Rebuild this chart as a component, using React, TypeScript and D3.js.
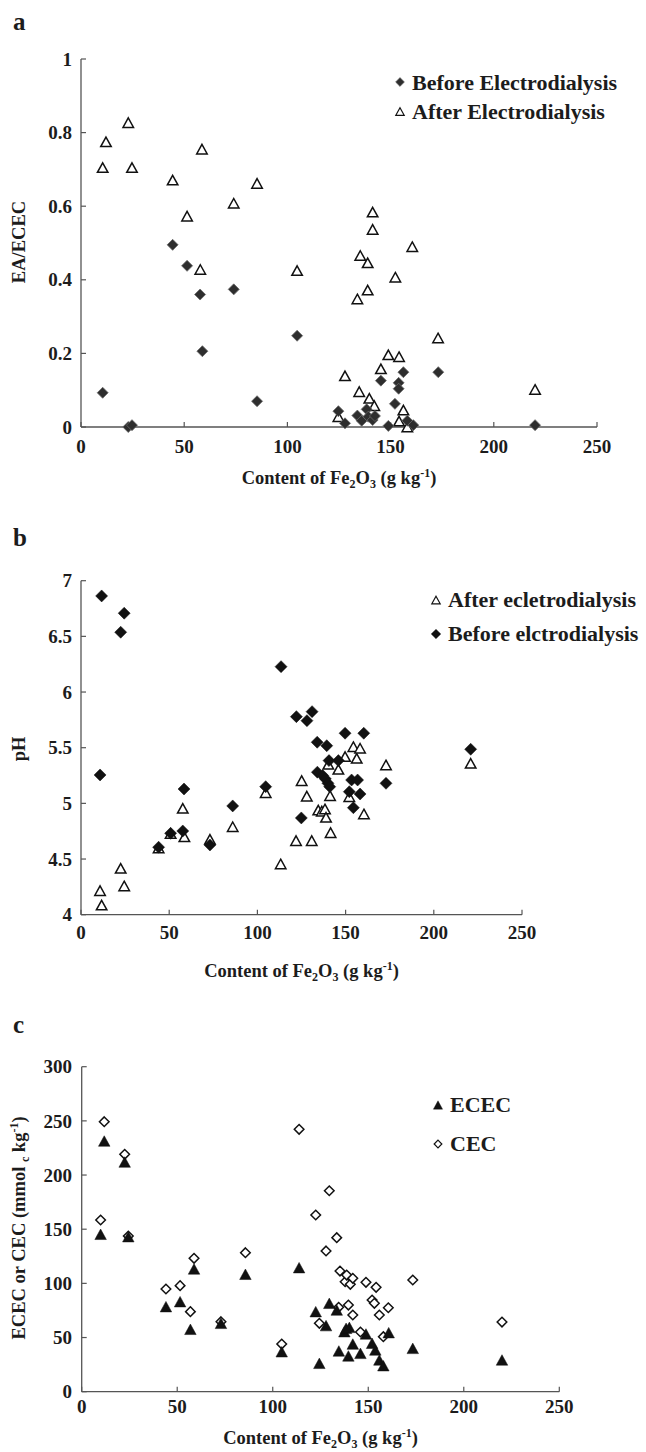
import * as React from "react";
import * as d3 from "d3";

const eaBefore: [number, number][] = [
  [10.5, 0.093], [22.9, 0.0], [24.7, 0.005], [44.4, 0.495], [51.4, 0.438], [57.7, 0.36], [58.8, 0.206],
  [74.0, 0.374], [85.3, 0.07], [104.7, 0.248], [124.7, 0.043], [127.9, 0.01], [133.9, 0.031], [136, 0.017],
  [138.4, 0.048], [139.2, 0.028], [141.3, 0.019], [142.4, 0.03], [145.3, 0.126], [148.9, 0.003], [152.1, 0.063],
  [153.9, 0.12], [153.9, 0.104], [156.2, 0.149], [158.1, 0.017], [161, 0.005], [173.1, 0.149], [220, 0.005],
];
const eaAfter: [number, number][] = [
  [10.5, 0.705], [12.1, 0.775], [22.9, 0.827], [24.7, 0.705], [44.4, 0.671], [51.4, 0.573], [57.8, 0.428],
  [58.6, 0.755], [74.0, 0.608], [85.3, 0.662], [104.7, 0.425], [124.7, 0.028], [127.9, 0.139], [133.9, 0.348],
  [134.8, 0.096], [135.3, 0.466], [138.9, 0.446], [138.9, 0.372], [139.7, 0.078], [141.3, 0.584], [141.3, 0.537],
  [142.1, 0.058], [145.3, 0.158], [148.9, 0.196], [152.3, 0.407], [154.1, 0.191], [154.1, 0.016], [156.2, 0.046],
  [158.1, 0.0], [160.5, 0.49], [173.0, 0.242], [220, 0.102],
];

const phBefore: [number, number][] = [
  [10.8, 5.255], [11.7, 6.863], [22.5, 6.537], [24.5, 6.708], [44.0, 4.606], [50.8, 4.731], [57.7, 4.752],
  [58.4, 5.129], [73.1, 4.626], [86.0, 4.977], [104.7, 5.15], [113.4, 6.228], [122.1, 5.779], [124.9, 4.869],
  [128.1, 5.743], [131, 5.824], [133.9, 5.549], [134, 5.28], [137, 5.25], [138.5, 5.22], [139.3, 5.518],
  [140, 5.18], [140.6, 5.384], [141, 5.15], [145.9, 5.384], [149.7, 5.63], [152.1, 5.105], [153.4, 5.21],
  [154.4, 4.961], [156.8, 5.21], [158.2, 5.084], [160.3, 5.63], [172.9, 5.18], [220.9, 5.486],
];
const phAfter: [number, number][] = [
  [10.8, 4.216], [11.7, 4.087], [22.5, 4.417], [24.5, 4.258], [44.0, 4.6], [50.8, 4.73], [57.7, 4.956],
  [58.6, 4.70], [73.1, 4.677], [86.0, 4.79], [104.7, 5.096], [113.2, 4.456], [121.9, 4.665], [125.1, 5.204],
  [128, 5.065], [130.8, 4.665], [134.5, 4.94], [136.5, 4.93], [138.3, 4.95], [138.9, 4.875], [140.2, 5.351],
  [141.2, 5.069], [141.5, 4.737], [145.9, 5.306], [149.7, 5.42], [152.1, 5.06], [154.4, 5.509], [156.3, 5.405],
  [158.2, 5.495], [160.4, 4.905], [172.9, 5.345], [220.9, 5.36],
];

const ecec: [number, number][] = [
  [9.9, 145.3], [11.8, 231.4], [22.5, 212.0], [24.4, 143.1], [44.1, 78.5], [51.5, 83.1], [56.9, 57.6],
  [58.8, 113.3], [72.9, 63.1], [85.7, 108.4], [104.7, 36.9], [113.8, 114.5], [122.5, 73.9], [124.4, 26.2],
  [127.9, 61.0], [129.6, 81.6], [133.5, 75.4], [134.6, 37.6], [137.5, 55.4], [138.4, 58.5], [139.6, 33.0],
  [140.1, 59.4], [141.9, 44.0], [145.9, 35.4], [148.8, 53.3], [152, 44.7], [153.7, 38.5], [155.8, 29.3],
  [157.9, 24.0], [160.7, 54.5], [173.3, 40.0], [220, 29.3],
];
const cec: [number, number][] = [
  [9.9, 158.5], [11.8, 249.2], [22.5, 219.1], [24.4, 143.7], [44.1, 94.8], [51.5, 97.9], [56.9, 73.9],
  [58.8, 123.1], [72.9, 64.6], [85.7, 128.3], [104.7, 44.0], [113.8, 242.2], [122.5, 163.1], [124.4, 63.1],
  [127.9, 129.9], [129.6, 185.5], [133.5, 142.2], [134.5, 77.9], [135.2, 111.4], [137.9, 101.5], [138.7, 107.7],
  [139.6, 80.0], [140.6, 99.1], [141.9, 104.7], [141.9, 70.8], [145.9, 55.1], [148.8, 101.0], [152, 84.6],
  [153.2, 81.6], [154.1, 96.4], [155.8, 70.8], [157.9, 50.8], [160.5, 77.5], [173.3, 103.1], [220, 64.3],
];

const xTicks = [0, 50, 100, 150, 200, 250];
const eaTicks = [0, 0.2, 0.4, 0.6, 0.8, 1];
const phTicks = [4, 4.5, 5, 5.5, 6, 6.5, 7];
const cecTicks = [0, 50, 100, 150, 200, 250, 300];

const FONT = "'Liberation Serif', 'Times New Roman', serif";
const INK = "#1c1c1c";
const AXIS = "#555";

const diamond = (r: number) => `M0,${-r}L${r},0L0,${r}L${-r},0Z`;
const triangle = (w: number, h: number) => `M0,${-h / 2}L${w / 2},${h / 2}L${-w / 2},${h / 2}Z`;

type MarkStyle = { d: string; fill: string; stroke: string; sw: number };

const ST = {
  diaGray: { d: diamond(5.5), fill: "#2e2e2e", stroke: "#6a6a6a", sw: 0.8 },
  diaBlack: { d: diamond(6), fill: "#111", stroke: "#111", sw: 0.5 },
  triOpen: { d: triangle(10.5, 9.5), fill: "#fff", stroke: "#111", sw: 1.5 },
  triFill: { d: triangle(11.5, 10.5), fill: "#111", stroke: "#111", sw: 0.5 },
  diaOpen: { d: diamond(4.8), fill: "#fff", stroke: "#111", sw: 1.5 },
};

function XTitle({ x, y }: { x: number; y: number }) {
  return (
    <text x={x} y={y} textAnchor="middle" fontSize={18.5} fontWeight="bold" fill={INK}>
      Content of Fe<tspan dy={3.5} fontSize={12}>2</tspan>
      <tspan dy={-3.5}>O</tspan>
      <tspan dy={3.5} fontSize={12}>3</tspan>
      <tspan dy={-3.5}> (g kg</tspan>
      <tspan dy={-7} fontSize={12}>-1</tspan>
      <tspan dy={7}>)</tspan>
    </text>
  );
}

type PanelProps = {
  label: string;
  labelY: number;
  xRange: [number, number];
  yRange: [number, number];
  yDomain: [number, number];
  yTicks: number[];
  tickFmt: (v: number) => string;
  xLabelOff: number;
  titleY: number;
  series: { data: [number, number][]; st: MarkStyle }[];
  legend: { st: MarkStyle; text: string; my: number; ty: number }[];
  legendX: number;
  yTitle: React.ReactNode;
  yTitleY: number;
};

function Panel(p: PanelProps) {
  const x = d3.scaleLinear().domain([0, 250]).range(p.xRange);
  const y = d3.scaleLinear().domain(p.yDomain).range(p.yRange);
  const x0 = p.xRange[0];
  const y0 = p.yRange[0];
  return (
    <g>
      <text x={13} y={p.labelY} fontSize={25} fontWeight="bold" fill={INK}>{p.label}</text>
      <line x1={x0} x2={x0} y1={p.yRange[1]} y2={y0} stroke={AXIS} strokeWidth={1.3} />
      <line x1={x0} x2={p.xRange[1]} y1={y0} y2={y0} stroke={AXIS} strokeWidth={1.3} />
      {p.yTicks.map((t) => (
        <g key={"y" + t}>
          <line x1={x0} x2={x0 + 5} y1={y(t)} y2={y(t)} stroke={AXIS} strokeWidth={1.2} />
          <text x={72} y={y(t)} dy="0.35em" textAnchor="end" fontSize={19} fontWeight="bold" fill={INK}>
            {p.tickFmt(t)}
          </text>
        </g>
      ))}
      {xTicks.map((t) => (
        <g key={"x" + t}>
          <line x1={x(t)} x2={x(t)} y1={y0} y2={y0 - 5} stroke={AXIS} strokeWidth={1.2} />
          <text x={x(t)} y={y0 + p.xLabelOff} dy="0.35em" textAnchor="middle" fontSize={19} fontWeight="bold" fill={INK}>
            {t}
          </text>
        </g>
      ))}
      <XTitle x={(p.xRange[0] + p.xRange[1]) / 2} y={p.titleY} />
      <text
        transform={`translate(19,${p.yTitleY}) rotate(-90)`}
        textAnchor="middle"
        dy="0.35em"
        fontSize={18.5}
        fontWeight="bold"
        fill={INK}
      >
        {p.yTitle}
      </text>
      {p.series.map((s, i) => (
        <g key={"s" + i}>
          {s.data.map((d, j) => (
            <path
              key={j}
              d={s.st.d}
              transform={`translate(${x(d[0])},${y(d[1])})`}
              fill={s.st.fill}
              stroke={s.st.stroke}
              strokeWidth={s.st.sw}
            />
          ))}
        </g>
      ))}
      {p.legend.map((l, i) => (
        <g key={"l" + i}>
          <path
            d={l.st.d}
            transform={`translate(${p.legendX},${l.my}) scale(0.8)`}
            fill={l.st.fill}
            stroke={l.st.stroke}
            strokeWidth={l.st.sw}
          />
          <text x={p.legendX + 12} y={l.ty} fontSize={22} fontWeight="bold" fill={INK}>{l.text}</text>
        </g>
      ))}
    </g>
  );
}

export default function App() {
  return (
    <svg
      width={646}
      height={1452}
      style={{ position: "absolute", left: 0, top: 0, background: "#fff" }}
      fontFamily={FONT}
    >
      <rect width={646} height={1452} fill="#fff" />
      <Panel
        label="a"
        labelY={30}
        xRange={[81, 597]}
        yRange={[427, 59]}
        yDomain={[0, 1]}
        yTicks={eaTicks}
        tickFmt={(v) => String(v)}
        xLabelOff={19}
        titleY={484}
        series={[
          { data: eaAfter, st: ST.triOpen },
          { data: eaBefore, st: ST.diaGray },
        ]}
        legendX={400}
        legend={[
          { st: ST.diaGray, text: "Before Electrodialysis", my: 82, ty: 89.5 },
          { st: ST.triOpen, text: "After Electrodialysis", my: 111.5, ty: 118.5 },
        ]}
        yTitle="EA/ECEC"
        yTitleY={242}
      />
      <Panel
        label="b"
        labelY={546}
        xRange={[81, 522]}
        yRange={[914.7, 580.7]}
        yDomain={[4, 7]}
        yTicks={phTicks}
        tickFmt={(v) => String(v)}
        xLabelOff={18}
        titleY={977}
        series={[
          { data: phAfter, st: ST.triOpen },
          { data: phBefore, st: ST.diaBlack },
        ]}
        legendX={436}
        legend={[
          { st: ST.triOpen, text: "After ecletrodialysis", my: 600, ty: 607 },
          { st: ST.diaBlack, text: "Before elctrodialysis", my: 634, ty: 641 },
        ]}
        yTitle="pH"
        yTitleY={749}
      />
      <Panel
        label="c"
        labelY={1033}
        xRange={[81.7, 559.3]}
        yRange={[1391.7, 1066.7]}
        yDomain={[0, 300]}
        yTicks={cecTicks}
        tickFmt={(v) => String(v)}
        xLabelOff={15}
        titleY={1444}
        series={[
          { data: cec, st: ST.diaOpen },
          { data: ecec, st: ST.triFill },
        ]}
        legendX={438}
        legend={[
          { st: ST.triFill, text: "ECEC", my: 1105, ty: 1112 },
          { st: ST.diaOpen, text: "CEC", my: 1144, ty: 1151 },
        ]}
        yTitle={
          <>
            ECEC or CEC (mmol <tspan dy={4} fontSize={12}>c</tspan>
            <tspan dy={-4}> kg</tspan>
            <tspan dy={-7} fontSize={12}>-1</tspan>
            <tspan dy={7}>)</tspan>
          </>
        }
        yTitleY={1228}
      />
    </svg>
  );
}
